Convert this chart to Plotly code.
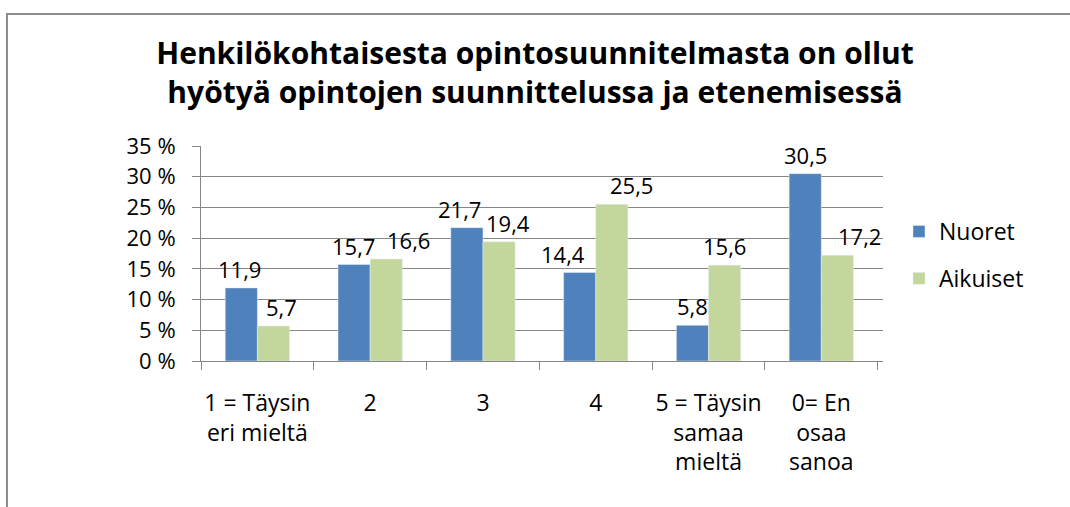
import plotly.graph_objects as go

categories = ["1 = Täysin<br>eri mieltä", "2", "3", "4", "5 = Täysin<br>samaa<br>mieltä", "0= En<br>osaa<br>sanoa"]
nuoret = [11.9, 15.7, 21.7, 14.4, 5.8, 30.5]
aikuiset = [5.7, 16.6, 19.4, 25.5, 15.6, 17.2]
y_ticks = [0, 5, 10, 15, 20, 25, 30, 35]
y_tick_labels = [f"{v} %" for v in y_ticks]
title_text = "Henkilökohtaisesta opintosuunnitelmasta on ollut<br>hyötyä opintojen suunnittelussa ja etenemisessä"

# label nudges (pixels, style only) as placed in the original chart
label_dx_nuoret = [-2, 0, -7, -17, 0, 0]
label_dx_aikuiset = [8, 22, 9, 20, 0, 22]

FONT = "Open Sans"
BLUE, GREEN = "#4F81BD", "#C3D69B"

def lab(v):
    return f"{v:.1f}".replace(".", ",")

fig = go.Figure()
fig.add_trace(go.Bar(name="Nuoret", x=categories, y=nuoret, marker_color=BLUE,
                     legendgroup="a", hoverinfo="y"))
fig.add_trace(go.Bar(name="Aikuiset", x=categories, y=aikuiset, marker_color=GREEN,
                     legendgroup="b", hoverinfo="y"))

W, H = 1070, 507
L, R, T, B = 201, 883, 146, 361
cat_w = (R - L) / len(categories)
bargap = 0.43
bar_w = cat_w * (1 - bargap) / 2

annotations = []
for i in range(len(categories)):
    for vals, dx, side in ((nuoret, label_dx_nuoret, -1), (aikuiset, label_dx_aikuiset, 1)):
        annotations.append(dict(x=i, y=vals[i], xref="x", yref="y", text=lab(vals[i]),
                                showarrow=False, xanchor="center", yanchor="bottom",
                                xshift=side * bar_w / 2 + dx[i], yshift=2,
                                font=dict(size=22, family=FONT, color="#000000")))

fig.update_layout(
    width=W, height=H,
    margin=dict(l=L, r=W - R, t=T, b=H - B, autoexpand=False),
    paper_bgcolor="white", plot_bgcolor="white",
    barmode="group", bargap=bargap, bargroupgap=0,
    font=dict(family=FONT, color="#000000", size=22),
    title=dict(text=title_text, x=0.5, xref="container", xanchor="center",
               y=1 - 64 / H, yref="container", yanchor="middle",
               font=dict(family=FONT, size=30, color="#000000", weight="bold")),
    showlegend=True,
    legend=dict(x=(899 - L) / (R - L), xanchor="left", y=(B - 210) / (B - T), yanchor="top",
                traceorder="grouped", tracegroupgap=14,
                font=dict(size=23, family=FONT, color="#000000"),
                bgcolor="rgba(0,0,0,0)"),
    xaxis=dict(type="category", showline=True, linecolor="#868686", linewidth=1,
               ticks="outside", ticklen=8, tickcolor="#868686", tickson="boundaries",
               showgrid=False, tickfont=dict(size=23, family=FONT), tickangle=0,
               automargin=False, ticklabelstandoff=21, fixedrange=True),
    yaxis=dict(range=[0, 35], tickmode="array", tickvals=y_ticks, ticktext=y_tick_labels,
               showline=True, linecolor="#868686", linewidth=1,
               ticks="outside", ticklen=8, tickcolor="#868686",
               showgrid=True, gridcolor="#868686", gridwidth=1,
               zeroline=False, tickfont=dict(size=22, family=FONT),
               automargin=False, ticklabelstandoff=12, fixedrange=True),
    annotations=annotations,
)

# outer chart border (top and left edges visible)
fig.add_shape(type="rect", xref="paper", yref="paper",
              x0=(7 - L) / (R - L), x1=(1090 - L) / (R - L),
              y0=(B - 530) / (B - T), y1=(B - 14) / (B - T),
              line=dict(color="#8C8C8C", width=2), fillcolor="rgba(0,0,0,0)", layer="below")

fig.write_html("out.html", config={"displayModeBar": False},
               post_script="document.body.style.margin='0';")
